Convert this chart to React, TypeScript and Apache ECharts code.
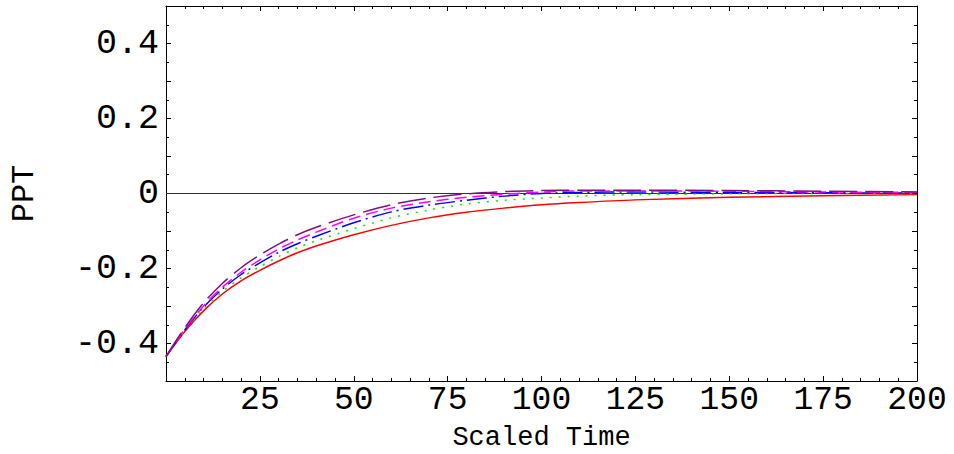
import React, { useEffect, useRef } from "react";
import * as echarts from "echarts";

const times = [0, 5, 10, 15, 20, 25, 30, 35, 40, 50, 60, 70, 80, 90, 100, 110, 125, 150, 175, 200];
const redValues = [-0.435, -0.368, -0.313, -0.268, -0.233, -0.205, -0.180, -0.158, -0.140, -0.110, -0.085, -0.065, -0.050, -0.039, -0.030, -0.024, -0.017, -0.010, -0.006, -0.003];
const greenValues = [-0.435, -0.366, -0.308, -0.262, -0.225, -0.195, -0.168, -0.145, -0.126, -0.094, -0.065, -0.044, -0.028, -0.018, -0.012, -0.007, -0.003, -0.001, 0.0, 0.0];
const blueValues = [-0.435, -0.364, -0.303, -0.255, -0.216, -0.185, -0.157, -0.134, -0.114, -0.078, -0.049, -0.031, -0.018, -0.007, 0.0, 0.003, 0.004, 0.003, 0.002, 0.001];
const magentaValues = [-0.435, -0.362, -0.300, -0.250, -0.210, -0.177, -0.148, -0.124, -0.103, -0.066, -0.039, -0.022, -0.010, -0.002, 0.004, 0.007, 0.007, 0.006, 0.004, 0.003];
const purpleValues = [-0.435, -0.358, -0.292, -0.240, -0.198, -0.164, -0.135, -0.110, -0.090, -0.057, -0.030, -0.012, -0.001, 0.005, 0.008, 0.009, 0.009, 0.008, 0.006, 0.004];

const xTickLabels = ["25", "50", "75", "100", "125", "150", "175", "200"];
const yTickLabels = ["-0.4", "-0.2", "0", "0.2", "0.4"];

const FONT = "'Liberation Mono', 'Courier New', monospace";

function pairs(vals: number[]) {
  return times.map((t, i) => [t, vals[i]]);
}

export default function App() {
  const ref = useRef<HTMLDivElement>(null);
  useEffect(() => {
    if (!ref.current) return;
    const chart = echarts.init(ref.current, undefined, { renderer: "svg" });
    const axisLine = { show: true, onZero: false, lineStyle: { color: "#000", width: 1 } };
    const xTick = { show: true, inside: true, length: 5, lineStyle: { color: "#000" } };
    const xMinor = { show: true, splitNumber: 5, length: 3, lineStyle: { color: "#000" } };
    const yTick = { show: true, inside: true, length: 5, lineStyle: { color: "#000" } };
    const yMinor = { show: true, splitNumber: 2, length: 3, lineStyle: { color: "#000" } };
    const xFmt = (v: number) => {
      const s = String(Math.round(v));
      return xTickLabels.includes(s) ? s : "";
    };
    const yFmt = (v: number) => {
      const r = Math.round(v * 10) / 10;
      const s = r === 0 ? "0" : String(r);
      return yTickLabels.includes(s) ? s : "";
    };
    const line = (name: string, vals: number[], color: string, type: any, extra: any = {}) => ({
      name,
      type: "line",
      data: pairs(vals),
      showSymbol: false,
      smooth: 0.3,
      lineStyle: { color, width: 1.5, type },
      z: 3,
      ...extra,
    });
    chart.setOption({
      animation: false,
      backgroundColor: "#fff",
      grid: { left: 166, right: 37, top: 6, bottom: 73, containLabel: false, outerBoundsMode: "none" },
      xAxis: [
        {
          type: "value",
          min: 0,
          max: 200,
          interval: 25,
          position: "bottom",
          axisLine,
          axisTick: xTick,
          minorTick: xMinor,
          splitLine: { show: false },
          axisLabel: {
            show: true,
            formatter: xFmt,
            fontFamily: FONT,
            fontSize: 33,
            color: "#000",
            margin: 3,
            showMinLabel: true,
            showMaxLabel: true,
          },
          name: "Scaled Time",
          nameLocation: "middle",
          nameMoveOverlap: false,
          nameGap: 43,
          nameTextStyle: { fontFamily: FONT, fontSize: 27, lineHeight: 27, color: "#000" },
        },
        {
          type: "value",
          min: 0,
          max: 200,
          interval: 25,
          position: "top",
          axisLine,
          axisTick: xTick,
          minorTick: xMinor,
          splitLine: { show: false },
          axisLabel: { show: false },
        },
      ],
      yAxis: [
        {
          type: "value",
          min: -0.5,
          max: 0.5,
          interval: 0.1,
          position: "left",
          axisLine,
          axisTick: yTick,
          minorTick: yMinor,
          splitLine: { show: false },
          axisLabel: {
            show: true,
            formatter: yFmt,
            fontFamily: FONT,
            fontSize: 35,
            color: "#000",
            margin: 7,
          },
          name: "PPT",
          nameLocation: "middle",
          nameRotate: 90,
          nameGap: 126,
          nameTextStyle: { fontFamily: FONT, fontSize: 32, color: "#000" },
        },
        {
          type: "value",
          min: -0.5,
          max: 0.5,
          interval: 0.1,
          position: "right",
          axisLine,
          axisTick: yTick,
          minorTick: yMinor,
          splitLine: { show: false },
          axisLabel: { show: false },
        },
      ],
      series: [
        line("red", redValues, "#ff0000", "solid", {
          markLine: {
            silent: true,
            symbol: ["none", "none"],
            label: { show: false },
            lineStyle: { color: "#333", width: 1, type: "solid" },
            data: [{ yAxis: 0 }],
            z: 1,
          },
        }),
        line("green", greenValues, "#00ee00", [2, 7]),
        line("blue", blueValues, "#0000ff", [20, 5, 2, 5]),
        line("magenta", magentaValues, "#ff00ff", [12, 6]),
        line("purple", purpleValues, "#80107f", [28, 8]),
      ],
    });
    return () => chart.dispose();
  }, []);
  return (
    <div
      ref={ref}
      style={{ position: "fixed", left: 0, top: 0, width: 954, height: 454, background: "#fff" }}
    />
  );
}
